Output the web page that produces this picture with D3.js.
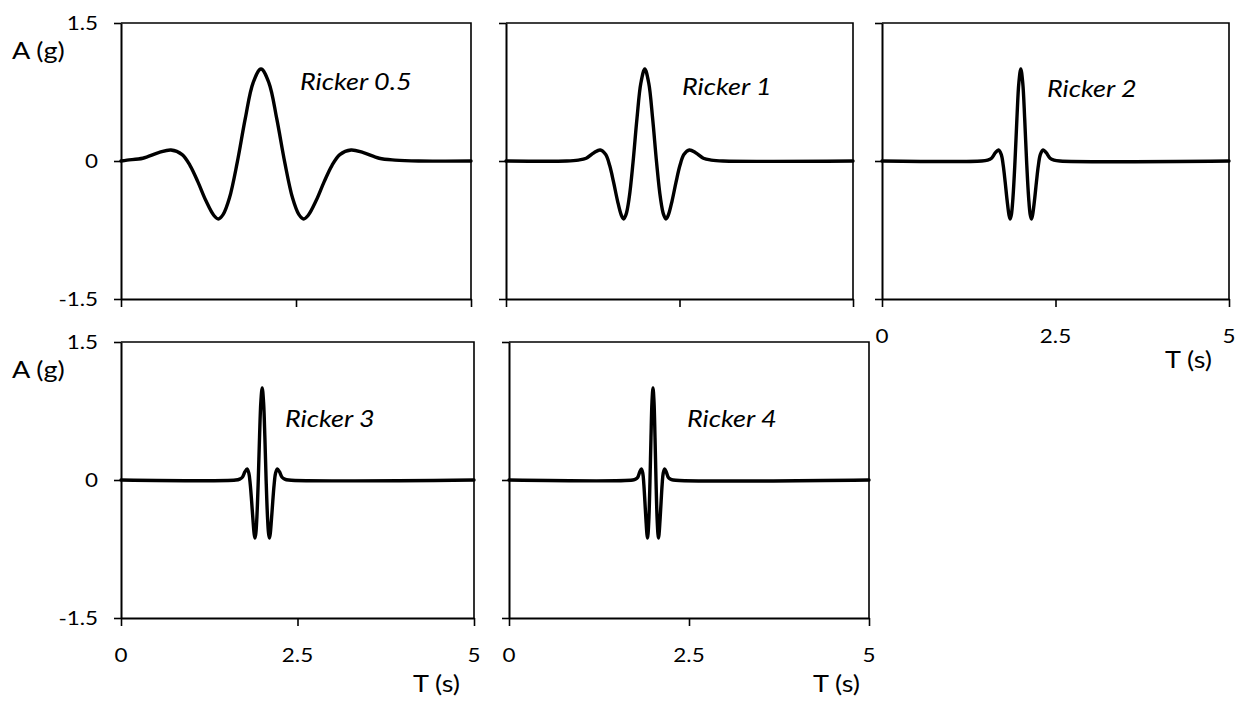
<!DOCTYPE html>
<html>
<head>
<meta charset="utf-8">
<script src="https://cdn.jsdelivr.net/npm/d3@7"></script>
<style>
  html, body { margin: 0; padding: 0; background: #fff; }
  svg { display: block; }
</style>
</head>
<body>
<svg id="chart" width="1248" height="702"></svg>
<script>
// Ricker pulse records: time (s) and acceleration (g)
const categories = ["Ricker 0.5", "Ricker 1", "Ricker 2", "Ricker 3", "Ricker 4"];

const timeR05 = [0, 0.087, 0.312, 0.537, 0.714, 0.874, 0.987, 1.100, 1.212, 1.325, 1.390, 1.460, 1.550, 1.662, 1.775, 1.887,
  2.000, 2.113, 2.225, 2.338, 2.450, 2.540, 2.610, 2.675, 2.788, 2.900, 3.013, 3.126, 3.286, 3.463, 3.688, 3.913, 4.251, 5];
const accR05 = [0, 0.01, 0.03, 0.09, 0.12, 0.07, -0.05, -0.23, -0.43, -0.59, -0.63, -0.58, -0.40, -0.01, 0.46, 0.85,
  1.00, 0.85, 0.46, -0.01, -0.40, -0.58, -0.63, -0.59, -0.43, -0.23, -0.05, 0.07, 0.12, 0.09, 0.03, 0.01, 0, 0];

const timeR1 = [0, 0.874, 1.043, 1.156, 1.268, 1.357, 1.437, 1.494, 1.550, 1.606, 1.662, 1.695, 1.730, 1.775, 1.831, 1.887, 1.944,
  2.000, 2.056, 2.113, 2.169, 2.225, 2.270, 2.305, 2.338, 2.394, 2.450, 2.506, 2.563, 2.643, 2.732, 2.844, 2.957, 3.126, 5];
const accR1 = [0, 0, 0.01, 0.03, 0.09, 0.12, 0.07, -0.05, -0.23, -0.43, -0.59, -0.63, -0.58, -0.40, -0.01, 0.46, 0.85,
  1.00, 0.85, 0.46, -0.01, -0.40, -0.58, -0.63, -0.59, -0.43, -0.23, -0.05, 0.07, 0.12, 0.09, 0.03, 0.01, 0, 0];

const timeR2 = [0, 1.437, 1.522, 1.578, 1.634, 1.678, 1.719, 1.747, 1.775, 1.803, 1.831, 1.847, 1.865, 1.887, 1.916, 1.944, 1.972,
  2.000, 2.028, 2.056, 2.084, 2.113, 2.135, 2.153, 2.169, 2.197, 2.225, 2.253, 2.281, 2.322, 2.366, 2.422, 2.478, 2.563, 5];
const accR2 = [0, 0, 0.01, 0.03, 0.09, 0.12, 0.07, -0.05, -0.23, -0.43, -0.59, -0.63, -0.58, -0.40, -0.01, 0.46, 0.85,
  1.00, 0.85, 0.46, -0.01, -0.40, -0.58, -0.63, -0.59, -0.43, -0.23, -0.05, 0.07, 0.12, 0.09, 0.03, 0.01, 0, 0];

const timeR3 = [0, 1.625, 1.681, 1.719, 1.756, 1.786, 1.812, 1.831, 1.850, 1.869, 1.887, 1.898, 1.910, 1.925, 1.944, 1.962, 1.981,
  2.000, 2.019, 2.038, 2.056, 2.075, 2.090, 2.102, 2.113, 2.131, 2.150, 2.169, 2.188, 2.214, 2.244, 2.281, 2.319, 2.375, 5];
const accR3 = [0, 0, 0.01, 0.03, 0.09, 0.12, 0.07, -0.05, -0.23, -0.43, -0.59, -0.63, -0.58, -0.40, -0.01, 0.46, 0.85,
  1.00, 0.85, 0.46, -0.01, -0.40, -0.58, -0.63, -0.59, -0.43, -0.23, -0.05, 0.07, 0.12, 0.09, 0.03, 0.01, 0, 0];

const timeR4 = [0, 1.719, 1.761, 1.789, 1.817, 1.839, 1.859, 1.873, 1.887, 1.902, 1.916, 1.924, 1.932, 1.944, 1.958, 1.972, 1.986,
  2.000, 2.014, 2.028, 2.042, 2.056, 2.068, 2.076, 2.084, 2.098, 2.113, 2.127, 2.141, 2.161, 2.183, 2.211, 2.239, 2.281, 5];
const accR4 = [0, 0, 0.01, 0.03, 0.09, 0.12, 0.07, -0.05, -0.23, -0.43, -0.59, -0.63, -0.58, -0.40, -0.01, 0.46, 0.85,
  1.00, 0.85, 0.46, -0.01, -0.40, -0.58, -0.63, -0.59, -0.43, -0.23, -0.05, 0.07, 0.12, 0.09, 0.03, 0.01, 0, 0];

const xTicks = [0, 2.5, 5];
const xTickLabels = ["0", "2.5", "5"];
const yTicks = [1.5, 0, -1.5];
const yTickLabels = ["1.5", "0", "-1.5"];
const xTitle = "T (s)";
const yTitle = "A (g)";

const seriesTimes = [timeR05, timeR1, timeR2, timeR3, timeR4];
const seriesAcc = [accR05, accR1, accR2, accR3, accR4];

// Panel frames (pixels) and which labels each one carries
const panels = [
  { x0: 121, x1: 471, y0: 23, y1: 299, yLabels: true,  xLabels: false, tag: [300, 90] },
  { x0: 506, x1: 853, y0: 23, y1: 299, yLabels: false, xLabels: false, tag: [682, 95] },
  { x0: 882, x1: 1229, y0: 23, y1: 299, yLabels: false, xLabels: true, tag: [1047, 97], xTitleAt: [1212, 368] },
  { x0: 121, x1: 474, y0: 342, y1: 618, yLabels: true,  xLabels: true, tag: [285, 427], xTitleAt: [460, 692] },
  { x0: 509, x1: 869, y0: 342, y1: 618, yLabels: false, xLabels: true, tag: [687, 427], xTitleAt: [860, 692] }
];

const font = "Lato, 'Open Sans', sans-serif";
const widen = 1.15;          // horizontal stretch of lettering
const tickFont = 19.5, titleFont = 23.5, tagFont = 23.5;

const svg = d3.select("#chart");

function addText(g, str, x, y, size, anchor, italic) {
  return g.append("text")
    .attr("transform", `translate(${x},${y}) scale(${widen},1)`)
    .attr("text-anchor", anchor)
    .attr("font-family", font)
    .attr("font-size", size)
    .attr("font-style", italic ? "italic" : "normal")
    .attr("fill", "#000")
    .text(str);
}

panels.forEach((p, i) => {
  const g = svg.append("g");
  const x = d3.scaleLinear().domain([0, 5]).range([p.x0, p.x1]);
  const y = d3.scaleLinear().domain([-1.5, 1.5]).range([p.y1, p.y0]);

  // plot area outline (top and right)
  g.append("path")
    .attr("d", `M${p.x0},${p.y0}H${p.x1}V${p.y1}`)
    .attr("fill", "none").attr("stroke", "#000").attr("stroke-width", 1.6);

  // axes
  const yAxis = d3.axisLeft(y).tickValues(yTicks).tickSize(7).tickSizeOuter(0).tickFormat("");
  const xAxis = d3.axisBottom(x).tickValues(xTicks).tickSize(8).tickSizeOuter(0).tickFormat("");
  const ya = g.append("g").attr("transform", `translate(${p.x0},0)`).call(yAxis);
  const xa = g.append("g").attr("transform", `translate(0,${p.y1})`).call(xAxis);
  [ya, xa].forEach(a => {
    a.selectAll(".domain").attr("stroke", "#000").attr("stroke-width", 2);
    a.selectAll(".tick line").attr("stroke", "#000").attr("stroke-width", 1.6);
  });

  // pulse trace
  const pts = seriesTimes[i].map((t, k) => [t, seriesAcc[i][k]]);
  const line = d3.line().x(d => x(d[0])).y(d => y(d[1])).curve(d3.curveCatmullRom.alpha(0.5));
  g.append("path")
    .attr("d", line(pts))
    .attr("fill", "none").attr("stroke", "#000")
    .attr("stroke-width", 3.4).attr("stroke-linejoin", "round").attr("stroke-linecap", "round");

  // y tick labels + title
  if (p.yLabels) {
    yTicks.forEach((v, k) => addText(g, yTickLabels[k], p.x0 - 23, y(v) + 7, tickFont, "end", false));
    addText(g, yTitle, 12, p.y0 + 36, titleFont, "start", false);
  }
  // x tick labels + title
  if (p.xLabels) {
    xTicks.forEach((v, k) => addText(g, xTickLabels[k], x(v), p.y1 + 44, tickFont, "middle", false));
    addText(g, xTitle, p.xTitleAt[0], p.xTitleAt[1], titleFont, "end", false);
  }
  // pulse name
  addText(g, categories[i], p.tag[0], p.tag[1], tagFont, "start", true);
});
</script>
</body>
</html>
